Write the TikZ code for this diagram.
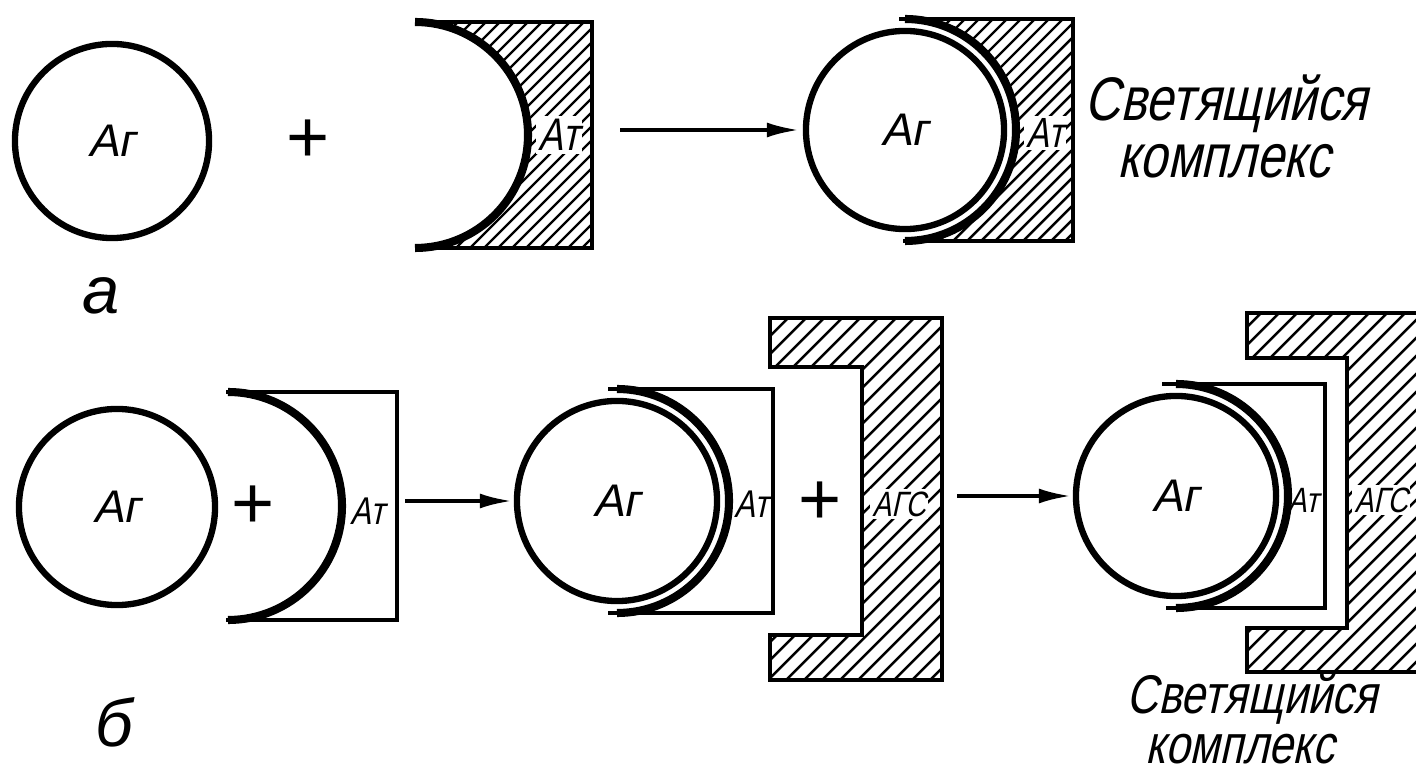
\documentclass[tikz,border=0pt]{standalone}
\usepackage{fontspec}
\setmainfont{Liberation Sans}
\newfontfamily\gost[FakeStretch=0.8,FakeSlant=0.22]{Liberation Sans}
\newfontfamily\slnt[FakeSlant=0.2]{Liberation Sans}
\usetikzlibrary{arrows.meta}
\newcommand\agf{\slnt\fontsize{13}{13}\selectfont}
\newcommand\plusf{\fontsize{21}{21}\selectfont}
\newcommand\lumf{\gost\fontsize{17.5}{17.5}\selectfont}
\newcommand\lumfb{\gost\fontsize{15.5}{15.5}\selectfont}
\newcommand\labf{\fontsize{19}{19}\selectfont\itshape}
\newcommand\atf[1]{\gost\fontsize{#1}{#1}\selectfont}
\newcommand\hatchfill[1]{%
  \begin{scope}
    \clip #1;
    \foreach \k in {-800,-786,...,1420} \draw[hatchl] (\k,790) -- ++(790,-790);
  \end{scope}}
\newcommand\hatchfillwide[1]{%
  \begin{scope}
    \clip #1;
    \foreach \k in {-800,-782,...,1420} \draw[hatchl] (\k,790) -- ++(790,-790);
  \end{scope}}
\begin{document}
\begin{tikzpicture}[x=0.01cm,y=-0.01cm,
  agcirc/.style={circle,draw,line width=1.8pt,inner sep=0pt},
  rimline/.style={line width=1.3pt},
  cupline/.style={line width=2.3pt},
  hatchl/.style={line width=0.7pt},
  arr/.style={line width=1pt,-{Latex[length=3.2mm,width=1.5mm]}},
  lab/.style={inner sep=1pt},
  hlab/.style={inner sep=0.8pt,fill=white},
  linetxt/.style={inner sep=0.5pt,anchor=base},
]
\useasboundingbox[fill=white] (0,0) rectangle (1416,777);

% ---------- row a ----------
\node[agcirc,minimum size=1.94cm,font=\agf] (ag1) at (112,141) {Аг};
\node[lab,font=\plusf] (plus1) at (308,141) {+};

% At (separate, hatched)
\hatchfill{(415,22) -- (592,22) -- (592,248) -- (415,248) arc[start angle=90,end angle=-90,radius=113] -- cycle}
\node[hlab,font={\atf{13}}] (at1) at (559,135) {Ат};
\draw[rimline] (415,22) -- (592,22) -- (592,248) -- (415,248);
\draw[cupline] (415,22) arc[start angle=-90,end angle=90,radius=113];
\coordinate (at1e) at (592,130);

% complex a
\node[agcirc,minimum size=1.98cm,font=\agf] (ag2) at (905,130) {Аг};
\hatchfill{(905,19) -- (1073,19) -- (1073,241) -- (905,241) arc[start angle=90,end angle=-90,radius=111] -- cycle}
\node[hlab,font={\atf{12}}] (at2) at (1045,133) {Ат};
\draw[rimline] (899,19) -- (1073,19) -- (1073,241) -- (903,241);
\draw[cupline] (905,19) arc[start angle=-90,end angle=90,radius=111];
\draw[arr,shorten <=0.28cm,shorten >=0.04cm] (at1e) -- (ag2.west);
\node[linetxt,font=\lumf] (lum1a) at (1226,121) {Светящийся};
\node[linetxt,font=\lumf] (lum1b) at (1224,178) {комплекс};
\node[lab,font=\labf] (la) at (101,296) {а};

% ---------- row b ----------
\node[agcirc,minimum size=1.96cm,font=\agf] (agb1) at (117,507) {Аг};
\node[lab,font=\plusf] (plusb1) at (253,507) {+};
\draw[rimline] (226,392) -- (397,392) -- (397,620) -- (226,620);
\draw[cupline] (228,392) arc[start angle=-90,end angle=90,radius=114];
\node[lab,font={\atf{11}}] (atb1) at (368,511) {Ат};
\coordinate (atb1e) at (397,501);

% complex b2
\node[agcirc,minimum size=2cm,font=\agf] (agb2) at (617,501) {Аг};
\draw[rimline] (608,389) -- (773,389) -- (773,613) -- (608,613);
\draw[cupline] (617,389) arc[start angle=-90,end angle=90,radius=112];
\node[lab,font={\atf{11}}] (atb2) at (752,504) {Ат};
\draw[arr,shorten <=0.08cm,shorten >=0.02cm] (atb1e) -- (agb2.west);
\node[lab,font=\plusf] (plusb2) at (820,503) {+};

% AGS b2
\hatchfillwide{(770,318) -- (942,318) -- (942,680) -- (770,680) -- (770,635) -- (862,635) -- (862,367) -- (770,367) -- cycle}
\node[hlab,font={\atf{10}}] (agsb2) at (899,504) {АГС};
\draw[rimline,line join=miter] (770,318) -- (942,318) -- (942,680) -- (770,680) -- (770,635) -- (862,635) -- (862,367) -- (770,367) -- cycle;
\coordinate (agsb2e) at (942,496);

% complex b3
\node[agcirc,minimum size=2cm,font=\agf] (agb3) at (1176,496) {Аг};
\draw[arr,shorten <=0.15cm,shorten >=0.02cm] (agsb2e) -- (agb3.west);
\draw[rimline] (1162,384) -- (1325,384) -- (1325,608) -- (1166,608);
\draw[cupline] (1176,384) arc[start angle=-90,end angle=90,radius=112];
\node[lab,font={\atf{10}}] (atb3) at (1303,500) {Ат};

% AGS b3
\hatchfillwide{(1247,313) -- (1427,313) -- (1427,672) -- (1247,672) -- (1247,628) -- (1347,628) -- (1347,358) -- (1247,358) -- cycle}
\node[hlab,font={\atf{10}}] (agsb3) at (1381,500) {АГС};
\draw[rimline,line join=miter] (1247,313) -- (1427,313) -- (1427,672) -- (1247,672) -- (1247,628) -- (1347,628) -- (1347,358) -- (1247,358) -- cycle;

\node[linetxt,font=\lumfb] (lum2a) at (1252,713) {Светящийся};
\node[linetxt,font=\lumfb] (lum2b) at (1240,763) {комплекс};
\node[lab,font=\labf] (lb) at (114,722) {б};
\end{tikzpicture}
\end{document}
